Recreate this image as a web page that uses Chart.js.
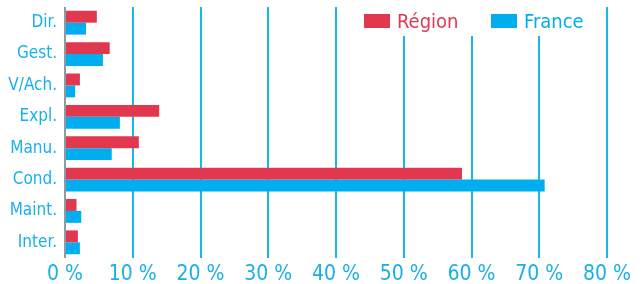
<!DOCTYPE html>
<html>
<head>
<meta charset="utf-8">
<script src="https://cdn.jsdelivr.net/npm/chart.js@4"></script>
<style>
  html, body { margin: 0; padding: 0; background: #fff; }
  #wrap { width: 642px; height: 284px; }
</style>
</head>
<body>
<div id="wrap"><canvas id="chart"></canvas></div>
<script>
const categories = ["Dir.", "Gest.", "V/Ach.", "Expl.", "Manu.", "Cond.", "Maint.", "Inter."];
const regionValues = [4.7, 6.6, 2.2, 13.9, 10.9, 58.6, 1.7, 1.9];
const franceValues = [3.1, 5.6, 1.5, 8.1, 6.9, 70.8, 2.4, 2.2];
const xTicks = [0, 10, 20, 30, 40, 50, 60, 70, 80];

const RED = "#e1384f";
const BLUE = "#00aeef";
const TEXT_BLUE = "#19b0e8";
const FONT = "'DejaVu Sans Condensed', 'Liberation Sans Narrow', sans-serif";

// legend drawn inside the plot, on a white patch over the gridlines
const insideLegend = {
  id: "insideLegend",
  afterDraw(chart) {
    const { ctx, chartArea } = chart;
    const items = chart.data.datasets;
    const top = chartArea.top;
    ctx.save();
    ctx.fillStyle = "#fff";
    ctx.fillRect(chartArea.right - 264, top, 258, 29);
    ctx.font = "20px " + FONT;
    ctx.textBaseline = "alphabetic";
    let x = chartArea.right - 243;
    items.forEach((ds) => {
      ctx.fillStyle = ds.backgroundColor;
      ctx.fillRect(x, top + 7, 26, 14);
      ctx.fillText(ds.label, x + 33, top + 21);
      x += 127;
    });
    ctx.restore();
  }
};

new Chart(document.getElementById("chart"), {
  type: "bar",
  data: {
    labels: categories,
    datasets: [
      { label: "Région", data: regionValues, backgroundColor: RED },
      { label: "France", data: franceValues, backgroundColor: BLUE }
    ]
  },
  options: {
    indexAxis: "y",
    responsive: true,
    maintainAspectRatio: false,
    animation: false,
    layout: { padding: { top: 7, right: 35, left: 0, bottom: 0 } },
    datasets: {
      bar: { barPercentage: 1, categoryPercentage: 0.76, borderWidth: 0 }
    },
    plugins: {
      legend: { display: false },
      tooltip: { enabled: false }
    },
    scales: {
      x: {
        min: 0,
        max: 80,
        afterBuildTicks: (s) => { s.ticks = xTicks.map((v) => ({ value: v })); },
        afterFit: (s) => { s.height = 26; },
        border: { display: false },
        grid: {
          drawTicks: false,
          lineWidth: 2,
          color: (c) => (c.tick && c.tick.value === 0 ? "#8d9ca4" : "#1ab6ea")
        },
        ticks: {
          padding: 4,
          color: TEXT_BLUE,
          font: { family: FONT, size: 21 },
          callback: (v) => v + " %"
        }
      },
      y: {
        afterFit: (s) => { s.width = 65; s.paddingTop = 0; s.paddingBottom = 0; },
        border: { display: false },
        grid: { display: false, drawTicks: false },
        ticks: {
          padding: 8,
          color: TEXT_BLUE,
          font: { family: FONT, size: 17 }
        }
      }
    }
  },
  plugins: [insideLegend]
});
</script>
</body>
</html>
